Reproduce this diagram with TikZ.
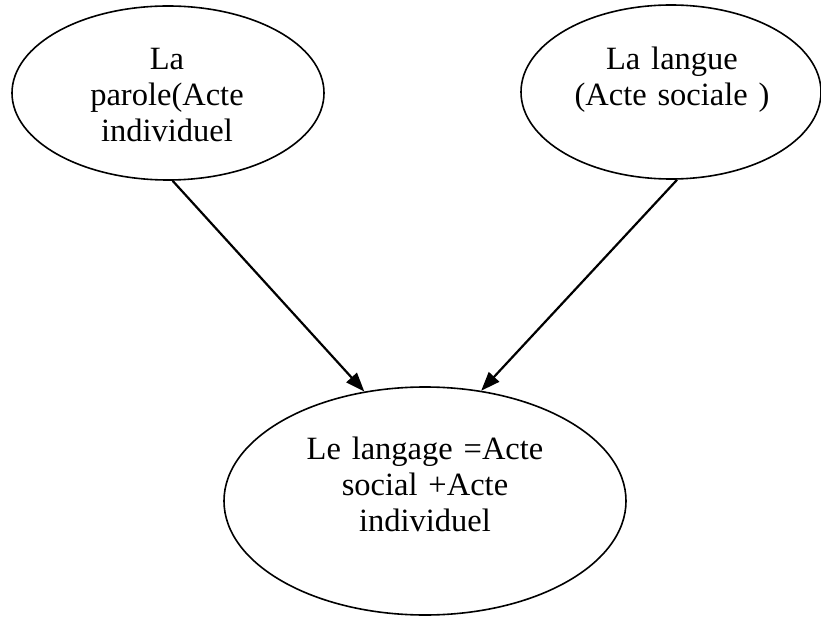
\documentclass[tikz,border=0pt]{standalone}
\usepackage{fontspec}
\setmainfont{Liberation Serif}
\usetikzlibrary{shapes.geometric,arrows.meta}
\begin{document}
\begin{tikzpicture}[x=1pt,y=-1pt,
 bubble/.style={ellipse,draw,line width=1.6pt,inner sep=0pt},
 txt/.style={text width=320pt,align=center,anchor=base,inner sep=0pt,font=\fontsize{32.5}{36}\selectfont},
 link/.style={line width=2.2pt,-{Triangle[length=19pt,width=14pt]}}]
\useasboundingbox (0,0) rectangle (821,617);
\node[bubble,minimum width=312pt,minimum height=174pt] (L) at (168,93) {};
\node[bubble,minimum width=300pt,minimum height=174pt] (R) at (671,92) {};
\node[bubble,minimum width=402pt,minimum height=228pt] (B) at (425,501) {};
\node[txt] (Lt) at (167,70) {La\\parole(Acte\\individuel};
\node[txt] (Rt) at (672,70) {La langue\\(Acte sociale )};
\node[txt] (Bt) at (425,459) {Le langage =Acte\\social +Acte\\individuel};
\draw[link] (L.-87) -- (B.119);
\draw[link] (R.-86) -- (B.63);
\end{tikzpicture}
\end{document}
